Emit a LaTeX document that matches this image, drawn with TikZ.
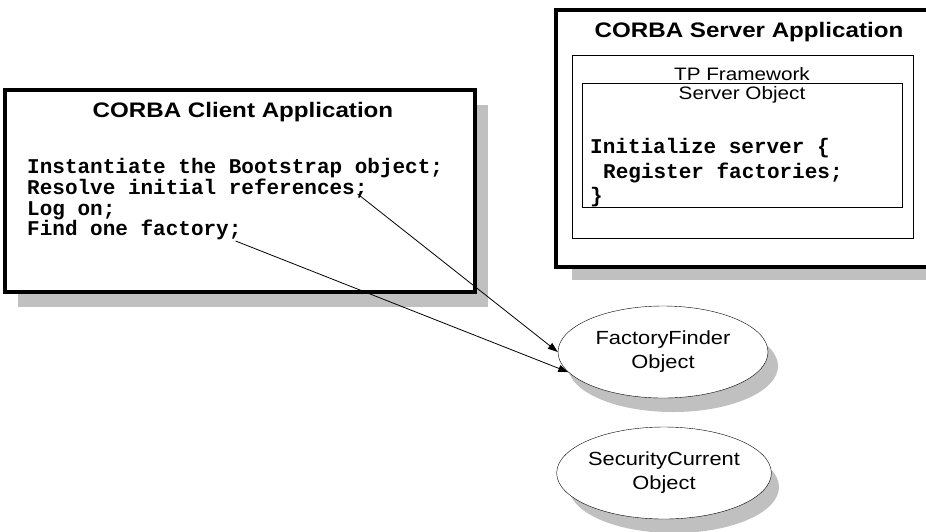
\documentclass[tikz,border=0pt]{standalone}
\usepackage{fontspec}
\setmainfont{Liberation Sans}
\newfontfamily\headfont[FakeStretch=1.15]{Liberation Sans}
\newfontfamily\codefont{Liberation Mono}
\usetikzlibrary{arrows.meta,shapes.geometric}
\definecolor{shadowgray}{RGB}{192,192,192}

\begin{document}
\begin{tikzpicture}[x=1pt, y=-1pt,
	codeline/.style={anchor=base west, inner sep=0pt,
		font=\codefont\bfseries\fontsize{21}{22}\selectfont},
	headtext/.style={anchor=base, inner sep=0pt,
		font=\headfont\bfseries\fontsize{21}{24}\selectfont},
	boxtext/.style={anchor=base, inner sep=0pt,
		font=\headfont\fontsize{18}{20}\selectfont},
	objnode/.style={ellipse, draw, fill=white, inner sep=0pt,
		minimum width=210pt, minimum height=92pt, align=center,
		font=\headfont\fontsize{19}{24}\selectfont},
	link/.style={-{Triangle[length=10pt,width=7pt]}, line width=0.8pt}]
	\clip (0,0) rectangle (926,531);
	\fill[white] (0,0) rectangle (926,531);

	% client application
	\fill[shadowgray] (18,105) rectangle (488,307);
	\draw[line width=3.5pt, fill=white] (5,90) rectangle (475,292);
	\node[headtext] (client) at (243,117) {CORBA Client Application};
	\node[codeline] (inst) at (27,173) {Instantiate the Bootstrap object;};
	\node[codeline] (res) at (27,194) {Resolve initial references;};
	\node[codeline] (logon) at (27,215) {Log on;};
	\node[codeline] (find) at (27,235) {Find one factory;};

	% server application
	\fill[shadowgray] (572,20) rectangle (940,280);
	\draw[line width=3.5pt, fill=white] (556,10) rectangle (940,267);
	\node[headtext] (server) at (749,37) {CORBA Server Application};
	\draw (572,55) rectangle (913,238);
	\node[boxtext] (tp) at (742,80) {TP Framework};
	\draw (582,83) rectangle (902,207);
	\node[boxtext] (sobj) at (742,99) {Server Object};
	\node[codeline] (init) at (590,153) {Initialize server \{};
	\node[codeline] (reg) at (603,178) {Register factories;};
	\node[codeline] (close) at (590,202) {\}};

	% objects
	\fill[shadowgray] (673,366) ellipse [x radius=105, y radius=46];
	\node[objnode] (ff) at (663,352) {FactoryFinder\\Object};
	\fill[shadowgray] (674,487) ellipse [x radius=105, y radius=46];
	\node[objnode] (sc) at (664,473) {SecurityCurrent\\Object};

	\draw[link] ([xshift=-10pt]res.base east) -- (ff.west);
	\draw[link] ([xshift=-6pt,yshift=-6pt]find.base east) -- (ff.192);
\end{tikzpicture}
\end{document}
